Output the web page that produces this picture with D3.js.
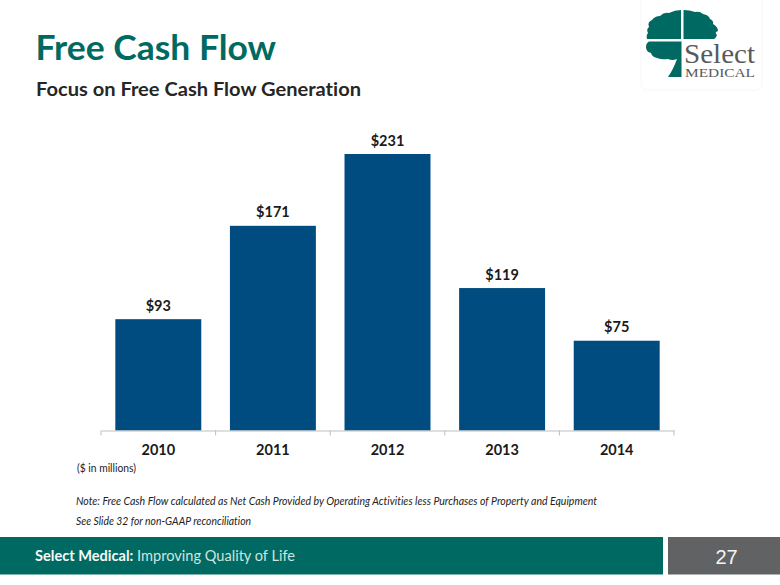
<!DOCTYPE html>
<html><head><meta charset="utf-8">
<script src="https://cdn.jsdelivr.net/npm/d3@7"></script>
<style>html,body{margin:0;padding:0;background:#fff}svg{display:block}text{font-family:Lato,"Open Sans",sans-serif;font-variant-ligatures:none}</style>
</head><body><svg id="c" width="780" height="585"></svg>
<script>
const categories = ["2010","2011","2012","2013","2014"];
const values = [93,171,231,119,75];
const labels = ["$93","$171","$231","$119","$75"];

const svg = d3.select("#c");
const x = d3.scaleBand().domain(categories).range([101,674]).paddingInner(0.25).paddingOuter(0.125);
const y = d3.scaleLinear().domain([0,231]).range([430.5,154]);

function txt(t,xp,yp,size,weight,fill,o={}){
  const e = svg.append("text").attr("x",xp).attr("y",yp).attr("font-size",size).attr("font-weight",weight).attr("fill",fill).text(t);
  if(o.anchor) e.attr("text-anchor",o.anchor);
  if(o.italic) e.attr("font-style","italic");
  if(o.len) e.attr("textLength",o.len).attr("lengthAdjust","spacingAndGlyphs");
  if(o.family) e.style("font-family",o.family);
  return e;
}

txt("Free Cash Flow",35.5,59.5,34.5,700,"#006a62",{len:240.5});
txt("Focus on Free Cash Flow Generation",36,96,19,700,"#262626",{len:325});

svg.append("g").selectAll("rect").data(values).join("rect")
  .attr("x",(d,i)=>x(categories[i])).attr("width",x.bandwidth())
  .attr("y",d=>y(d)).attr("height",d=>y(0)-y(d)).attr("fill","#004b7f");

svg.append("g").selectAll("text").data(values).join("text")
  .attr("x",(d,i)=>x(categories[i])+x.bandwidth()/2).attr("y",d=>y(d)-8.5)
  .attr("text-anchor","middle").attr("font-size",14.5).attr("font-weight",700).attr("fill","#1a1a1a")
  .text((d,i)=>labels[i]);

const axis = d3.axisBottom(x).tickSize(0).tickPadding(14);
const g = svg.append("g").attr("transform","translate(0,430.5)").call(axis);
g.select(".domain").attr("stroke","#bfbfbf").attr("stroke-width",1);
g.selectAll("text").attr("font-size",14.5).attr("font-weight",700).attr("fill","#1a1a1a").style("font-family","Lato");
const step = x.step();
g.append("g").selectAll("line").data(d3.range(categories.length+1)).join("line")
  .attr("x1",i=>101+i*step).attr("x2",i=>101+i*step).attr("y1",0).attr("y2",5).attr("stroke","#bfbfbf");

txt("($ in millions)",77,471.5,10.5,400,"#222",{len:59});
txt("Note: Free Cash Flow calculated as Net Cash Provided by Operating Activities less Purchases of Property and Equipment",76,505,10.5,400,"#222",{italic:true,len:521});
txt("See Slide 32 for non-GAAP reconciliation",76,524.5,10.5,400,"#222",{italic:true,len:175});

// footer
svg.append("rect").attr("x",0).attr("y",537).attr("width",663).attr("height",37.5).attr("fill","#006a62");
svg.append("rect").attr("x",668).attr("y",537).attr("width",112).attr("height",37.5).attr("fill","#616264");
const ft = txt("Select Medical:",35,561,15.5,700,"#f5f9f8");
ft.append("tspan").attr("font-weight",400).attr("fill","#cfe3df").text(" Improving Quality of Life");
ft.attr("textLength",260).attr("lengthAdjust","spacingAndGlyphs");
txt("27",726.5,564,20,400,"#f5f5f5",{anchor:"middle",family:"Liberation Sans"});

// logo
svg.append("rect").attr("x",641).attr("y",-6).attr("width",121).attr("height",96).attr("rx",6)
  .attr("fill","#fff").attr("stroke","#eeeeee").attr("stroke-dasharray","1 1");
const tree =
 "M681 10 L681 39 L647 39 Q646 35 648 33 Q646 29 649 27 Q647 22 652 20 Q655 16 660 16 Q664 12 669 13 Q675 10 681 10 Z "+
 "M683.5 10 Q690 10 695 12 Q700 11 703 14 Q709 15 710 19 Q714 21 713 24 Q718 27 718 31 Q714 32 717 35 Q716 38 714 39 L683.5 39 Z "+
 "M681.5 41.5 L681.5 77 L668 77 Q673 70 677 59 Q672 61 668 59 Q662 60 657 58 Q652 57 651 53 Q646 52 646 47 Q646 43 649 41.5 Z";
svg.append("path").attr("d",tree).attr("fill","#006a62");
txt("Select",684,63,28,400,"#58595b",{family:"Liberation Serif",len:71});
txt("MEDICAL",685,76.7,12.5,400,"#58595b",{family:"Liberation Serif",len:70});
</script></body></html>
